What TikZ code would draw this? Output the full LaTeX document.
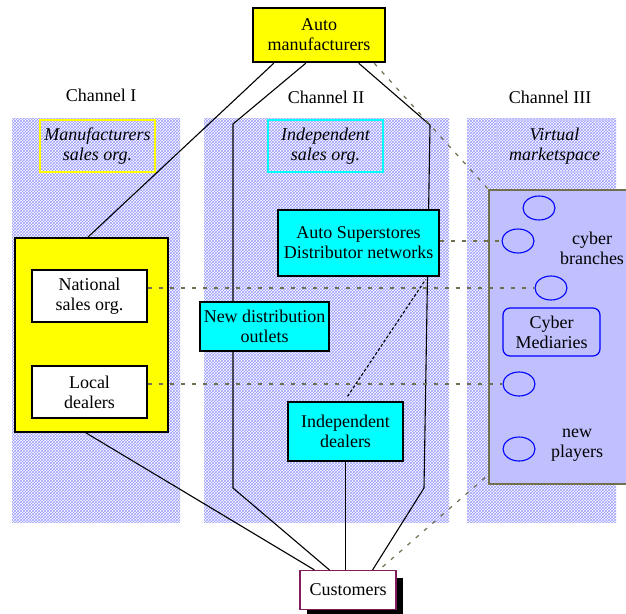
\documentclass[tikz,border=0pt]{standalone}
\usepackage{fontspec}
\setmainfont{Liberation Serif}
\usetikzlibrary{calc,patterns,shadows,shapes.geometric}
\definecolor{hatchblue}{RGB}{155,155,255}
\definecolor{lavender}{RGB}{192,192,255}
\definecolor{headlav}{RGB}{200,200,255}
\definecolor{olivegray}{RGB}{112,112,80}
\definecolor{custpurple}{RGB}{128,30,90}
\definecolor{boxyellow}{RGB}{255,255,0}
\definecolor{boxcyan}{RGB}{0,255,255}
\tikzset{
	box/.style={draw, line width=1.2pt, align=center, inner sep=0pt},
	headbox/.style={draw, line width=1.2pt, align=center, inner sep=0pt, font=\fontsize{18}{20}\selectfont\itshape, minimum width=115pt, minimum height=52pt},
	panel/.style={pattern=crosshatch, pattern color=hatchblue},
	link/.style={line width=1.1pt},
	virtlink/.style={olivegray, line width=1.2pt, dash pattern=on 4pt off 7pt},
	cyberbub/.style={ellipse, draw=blue, line width=1.1pt, minimum width=32pt, minimum height=24pt, inner sep=0pt}
}

\begin{document}
\begin{tikzpicture}[x=1pt, y=-1pt, every node/.style={font=\fontsize{18}{20}\selectfont}]
			%%%%% START %%%%%
			\useasboundingbox (0,0) rectangle (626,613);
			
			% hatched channel panels
			\fill[panel] (12,118) rectangle (180,522);
			\fill[panel] (204,118) rectangle (449,522);
			\fill[panel] (467,118) rectangle (616,522);
			
			\node at (101,95) {Channel I};
			\node at (326,97) {Channel II};
			\node at (550,97) {Channel III};
			
			\node[headbox, draw=boxyellow] (mfrsales) at (97.5,146) {Manufacturers\\sales org.};
			\node[headbox, draw=boxcyan] (indsales) at (325.5,146) {Independent\\sales org.};
			\node[headbox, draw=headlav] (virtual) at (554.5,146) {Virtual\\marketspace};
			
			\node[box, line width=2.5pt, fill=boxyellow, minimum width=132pt, minimum height=54pt] (automfr) at (319,35) {Auto\\manufacturers};
			
			% channel II frame, drawn under the boxes
			\coordinate (leftbend) at (233,124);
			\coordinate (leftfoot) at (233,488);
			\coordinate (rightbend) at (430,125);
			\coordinate (rightfoot) at (424,488);
			
			\node[box, fill=white, draw=custpurple, minimum width=96pt, minimum height=39pt,
				drop shadow={shadow xshift=7pt, shadow yshift=-7pt, fill=black, opacity=1}] (customers) at (348,590) {Customers};
			
			\draw[link] ($(automfr.south west)+(22,0)$) -- (87,238);
			\draw[link] ($(automfr.south west)+(54,0)$) -- (leftbend) -- (leftfoot) -- ($(customers.north west)+(30,0)$);
			\draw[link] ($(automfr.south west)+(107,0)$) -- (rightbend) -- (rightfoot) -- ($(customers.north east)+(-24,0)$);
			
			% virtual channel box
			\node[draw=olivegray, line width=1.5pt, fill=lavender, minimum width=139pt, minimum height=294pt, inner sep=0pt] (virtbox) at (558.5,337) {};
			
			\node[cyberbub] (bubA) at (539,208) {};
			\node[cyberbub] (bubB) at (518,241) {};
			\node[cyberbub] (bubC) at (551,288) {};
			\node[cyberbub] (bubD) at (519,384) {};
			\node[cyberbub] (bubE) at (519,449) {};
			\node[box, draw=blue, fill=lavender, rounded corners=7pt, minimum width=97pt, minimum height=48pt] (mediaries) at (551.5,332) {Cyber\\Mediaries};
			\node[align=center] (branches) at (592,248) {cyber\\branches};
			\node[align=center] (players) at (577,445) {new\\players};
			
			% channel I
			\node[box, fill=boxyellow, minimum width=153pt, minimum height=194pt] (chanone) at (91.5,335) {};
			\node[box, fill=white, minimum width=115pt, minimum height=52pt] (national) at (89.5,296) {National\\sales org.};
			\node[box, fill=white, minimum width=115pt, minimum height=52pt] (localdeal) at (89.5,392) {Local\\dealers};
			\draw[link] ($(chanone.south)+(-6,0)$) -- ($(customers.north west)+(15,0)$);
			
			% channel II
			\node[box, fill=boxcyan, minimum width=161pt, minimum height=66pt] (superstores) at (358.5,243) {Auto Superstores\\Distributor networks};
			\node[box, fill=boxcyan, minimum width=129pt, minimum height=49pt] (newdist) at (264.5,326.5) {New distribution\\outlets};
			\node[box, fill=boxcyan, minimum width=115pt, minimum height=59pt] (indepdeal) at (345.5,431.5) {Independent\\dealers};
			\draw[link] (indepdeal.south) -- (indepdeal.south |- customers.north);
			\draw[link, densely dashed] ($(indepdeal.north)+(2,-5)$) -- ($(superstores.south east)+(-14,3)$);
			
			% links to the virtual marketspace
			\draw[virtlink] ($(automfr.south east)+(-12,0)$) -- (virtbox.north west);
			\draw[virtlink] (bubB.west -| superstores.east) -- (bubB.west);
			\draw[virtlink] (bubC.west -| national.east) -- (bubC.west);
			\draw[virtlink] (bubD.west -| localdeal.east) -- (bubD.west);
			\draw[virtlink] ($(customers.north east)+(-14,-3)$) -- ($(virtbox.south west)+(0,-10)$);
			
			%%%%% END %%%%%
		\end{tikzpicture}
\end{document}
